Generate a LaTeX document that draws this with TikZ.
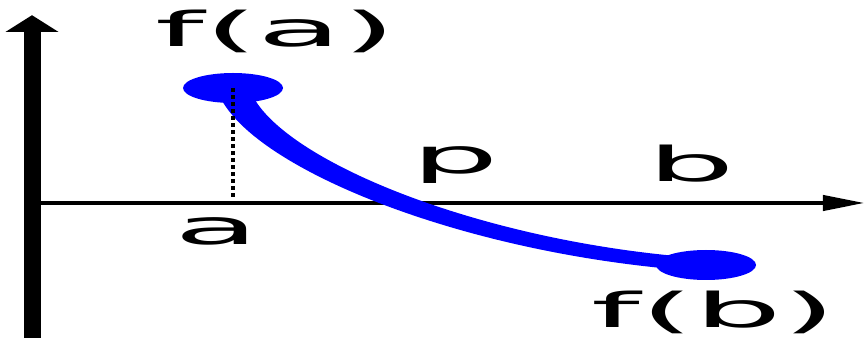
\documentclass[tikz,border=0pt]{standalone}
\usepackage{fontspec}
\setmainfont{DejaVu Sans}
\usetikzlibrary{arrows.meta,shapes.geometric}
\begin{document}
\begin{tikzpicture}[
  dotnode/.style={ellipse, fill=blue, inner sep=0pt, minimum width=1.2cm, minimum height=0.9cm},
  lbl/.style={anchor=base, inner sep=0pt, font=\fontsize{41}{41}\selectfont,
              xscale=1.15, transform shape},
]
  \useasboundingbox (-0.96,-4.05) rectangle (25.05,6.09);
  \begin{scope}[transform canvas={xscale=2.5}]
  % Axes
  \coordinate (o) at (0,0);
  \coordinate (ybot) at (0,-4.05);
  \coordinate (ytop) at (0,5.64);
  \coordinate (xend) at (9.99,0);
  \draw[line width=0.204cm, -{Triangle[length=0.51cm, width=0.6cm]}] (ybot) -- (ytop);
  \draw[line width=0.12cm, -{Triangle[length=0.5cm, width=0.45cm]}] (o) -- (xend);

  % Points
  \node[dotnode] (fa) at (2.412,3.45) {};
  \node[dotnode] (fb) at (8.088,-1.86) {};
  \coordinate (ta) at (2.412,0.15);

  % Curve
  \draw[blue, line width=0.39cm] (fa.center) .. controls (2.676,1.29) and (5.256,-1.41) .. (fb.center);
  \draw[line width=0.048cm, dash pattern=on 3pt off 3pt] (fa.center) -- (ta);

  % Labels
  \node[lbl] (lfa) at (2.928,4.68) {f(a)};
  \node[lbl] (la) at (2.22,-1.26) {a};
  \node[lbl] (lp) at (5.076,0.87) {p};
  \node[lbl] (lb) at (7.908,0.63) {b};
  \node[lbl] (lfb) at (8.184,-3.75) {f(b)};
  \end{scope}
\end{tikzpicture}
\end{document}
